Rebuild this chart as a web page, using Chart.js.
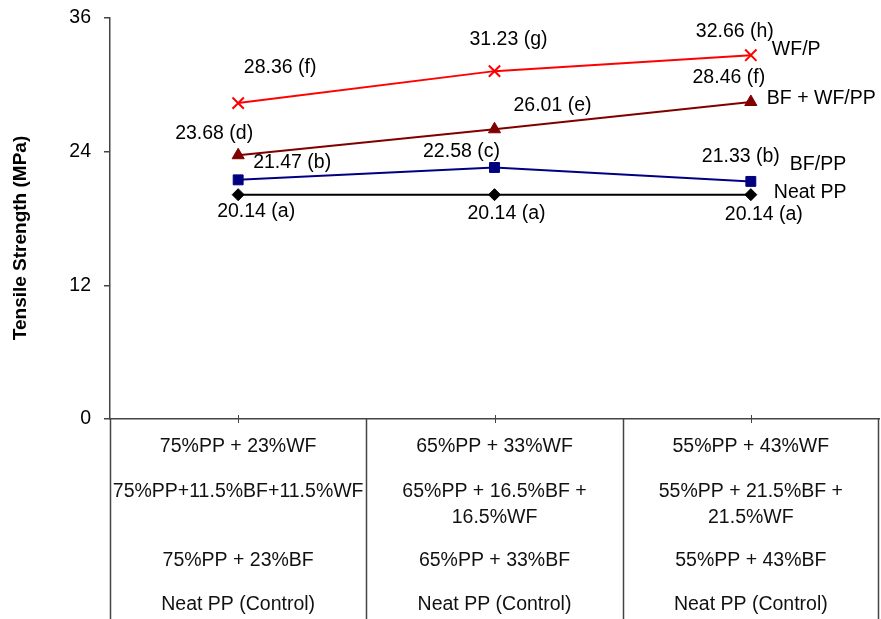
<!DOCTYPE html>
<html>
<head>
<meta charset="utf-8">
<title>Tensile Strength</title>
<script src="https://cdn.jsdelivr.net/npm/chart.js@4/dist/chart.umd.min.js"></script>
<style>
  html, body { margin: 0; padding: 0; background: #fff; }
  canvas { display: block; }
</style>
</head>
<body>
<canvas id="chart" width="881" height="619"></canvas>
<script>
// Fibre loading levels (one column of the composition table each)
const categories = ['Level 1', 'Level 2', 'Level 3'];

// Tensile strength (MPa) per formulation
const neatPP   = [20.14, 20.14, 20.14];
const bfPP     = [21.47, 22.58, 21.33];
const bfWfPP   = [23.68, 26.01, 28.46];
const wfPP     = [28.36, 31.23, 32.66];

// Significance letters printed next to each mean
const neatPPGroups = ['a', 'a', 'a'];
const bfPPGroups   = ['b', 'c', 'b'];
const bfWfPPGroups = ['d', 'e', 'f'];
const wfPPGroups   = ['f', 'g', 'h'];

// Series names written at the right end of each line
const seriesNames = ['Neat PP', 'BF/PP', 'BF + WF/PP', 'WF/P'];

// Y axis range and tick spacing
const yMin = 0, yMax = 36, yStep = 12;

// Composition table under the axis (one row per series, one column per level)
const tableRows = [
  ['75%PP + 23%WF', '65%PP + 33%WF', '55%PP + 43%WF'],
  ['75%PP+11.5%BF+11.5%WF', '65%PP + 16.5%BF +\n16.5%WF', '55%PP + 21.5%BF +\n21.5%WF'],
  ['75%PP + 23%BF', '65%PP + 33%BF', '55%PP + 43%BF'],
  ['Neat PP (Control)', 'Neat PP (Control)', 'Neat PP (Control)']
];

const FONT = "'Liberation Sans', Arial, Helvetica, sans-serif";
const LINE_COLOR = '#444';

// label placement: offset from each point to the centre of its value label
const valueLabelOffsets = [
  [[18, 17], [12, 19], [13, 20]],        // Neat PP
  [[54, -17], [-33, -16], [-10, -25]],   // BF/PP
  [[-24, -22], [58, -24], [-22, -24]],   // BF + WF/PP
  [[42, -35], [14, -32], [-16, -24]]     // WF/P
];
// offset from the last point to the left edge / middle of the series name
const nameOffsets = [[23, -2], [39, -17], [16, -3], [21, -6]];
// vertical centres of the table rows and spacing of wrapped lines
const tableRowY = [447, 492, 561, 605];
const tableLineGap = 26;

const groups = [neatPPGroups, bfPPGroups, bfWfPPGroups, wfPPGroups];

const whiteBackground = {
  id: 'whiteBackground',
  beforeDraw(chart) {
    const ctx = chart.ctx;
    ctx.save();
    ctx.fillStyle = '#fff';
    ctx.fillRect(0, 0, chart.width, chart.height);
    ctx.restore();
  }
};

const annotations = {
  id: 'annotations',
  afterDatasetsDraw(chart) {
    const ctx = chart.ctx;
    ctx.save();
    ctx.font = '19.5px ' + FONT;
    ctx.fillStyle = '#000';
    ctx.textBaseline = 'middle';

    chart.data.datasets.forEach((ds, i) => {
      const meta = chart.getDatasetMeta(i);
      meta.data.forEach((pt, j) => {
        const off = valueLabelOffsets[i][j];
        ctx.textAlign = 'center';
        ctx.fillText(ds.data[j].toFixed(2) + ' (' + groups[i][j] + ')', pt.x + off[0], pt.y + off[1]);
      });
      const last = meta.data[meta.data.length - 1];
      ctx.textAlign = 'left';
      ctx.fillText(seriesNames[i], last.x + nameOffsets[i][0], last.y + nameOffsets[i][1]);
    });
    ctx.restore();
  },
  afterDraw(chart) {
    const ctx = chart.ctx;
    const x = chart.scales.x;
    const area = chart.chartArea;
    ctx.save();

    // axis title
    ctx.font = 'bold 19px ' + FONT;
    ctx.fillStyle = '#000';
    ctx.textAlign = 'center';
    ctx.textBaseline = 'middle';
    ctx.translate(21, 238);
    ctx.rotate(-Math.PI / 2);
    ctx.fillText('Tensile Strength (MPa)', 0, 0);
    ctx.setTransform(1, 0, 0, 1, 0, 0);

    // table column borders at the category boundaries
    const n = categories.length;
    const half = (x.getPixelForValue(1) - x.getPixelForValue(0)) / 2;
    const edges = [];
    for (let k = 0; k < n; k++) edges.push(x.getPixelForValue(k) - half);
    edges.push(x.getPixelForValue(n - 1) + half);
    ctx.strokeStyle = LINE_COLOR;
    ctx.lineWidth = 1.5;
    ctx.beginPath();
    edges.forEach(ex => {
      const px = Math.round(Math.min(ex, area.right - 1)) + 0.5;
      ctx.moveTo(px, area.bottom);
      ctx.lineTo(px, chart.height);
    });
    ctx.stroke();

    // tick marks crossing the category axis
    ctx.lineWidth = 1;
    ctx.beginPath();
    for (let k = 0; k < n; k++) {
      const px = Math.round(x.getPixelForValue(k)) + 0.5;
      ctx.moveTo(px, area.bottom - 4);
      ctx.lineTo(px, area.bottom + 4);
    }
    ctx.stroke();

    // table text
    ctx.font = '19.5px ' + FONT;
    ctx.fillStyle = '#111';
    tableRows.forEach((row, r) => {
      row.forEach((cell, c) => {
        const cx = x.getPixelForValue(c);
        cell.split('\n').forEach((line, l) => {
          ctx.fillText(line, cx, tableRowY[r] + l * tableLineGap);
        });
      });
    });
    ctx.restore();
  }
};

new Chart(document.getElementById('chart'), {
  type: 'line',
  data: {
    labels: categories,
    datasets: [
      {
        label: seriesNames[0], data: neatPP,
        borderColor: '#000', backgroundColor: '#000', borderWidth: 2,
        pointStyle: 'rectRot', pointRadius: 6, pointBackgroundColor: '#000', pointBorderColor: '#000', pointBorderWidth: 1
      },
      {
        label: seriesNames[1], data: bfPP,
        borderColor: '#000080', backgroundColor: '#000080', borderWidth: 2,
        pointStyle: 'rect', pointRadius: 7, pointBackgroundColor: '#000080', pointBorderColor: '#000080', pointBorderWidth: 1
      },
      {
        label: seriesNames[2], data: bfWfPP,
        borderColor: '#800000', backgroundColor: '#800000', borderWidth: 2,
        pointStyle: 'triangle', pointRadius: 7, pointBackgroundColor: '#800000', pointBorderColor: '#800000', pointBorderWidth: 1
      },
      {
        label: seriesNames[3], data: wfPP,
        borderColor: '#ff0000', backgroundColor: '#ff0000', borderWidth: 2,
        pointStyle: 'crossRot', pointRadius: 8, pointBorderColor: '#ff0000', pointBorderWidth: 2
      }
    ]
  },
  options: {
    responsive: false,
    animation: false,
    devicePixelRatio: 1,
    layout: { autoPadding: false, padding: { top: 18, right: 2, bottom: 200, left: 0 } },
    plugins: { legend: { display: false }, tooltip: { enabled: false } },
    elements: { line: { tension: 0, fill: false } },
    scales: {
      x: {
        type: 'category',
        offset: true,
        grid: { display: false },
        border: { display: true, color: LINE_COLOR, width: 1.5 },
        ticks: { display: false },
        afterFit(s) { s.height = 0; s.paddingLeft = 0; s.paddingRight = 0; }
      },
      y: {
        min: yMin, max: yMax,
        ticks: { stepSize: yStep, color: '#000', padding: 13, font: { family: FONT, size: 19.5 } },
        grid: { drawOnChartArea: false, tickLength: 6, color: LINE_COLOR, lineWidth: 1.5 },
        border: { color: LINE_COLOR, width: 1.5 },
        afterFit(s) { s.width = 110; s.paddingTop = 0; s.paddingBottom = 0; }
      }
    }
  },
  plugins: [whiteBackground, annotations]
});
</script>
</body>
</html>
